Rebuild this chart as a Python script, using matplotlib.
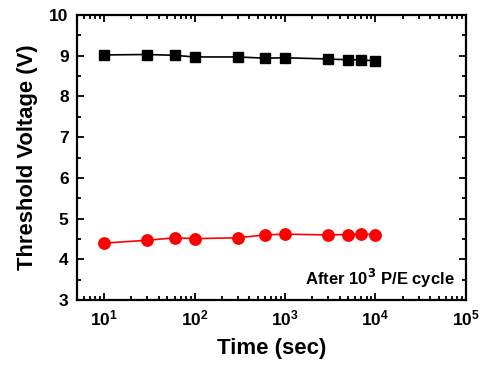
import matplotlib
matplotlib.use("Agg")
import matplotlib.pyplot as plt
from matplotlib.ticker import LogLocator, MultipleLocator

plt.rcParams['font.family'] = ['Liberation Sans', 'DejaVu Sans']
plt.rcParams['font.weight'] = 'bold'

# data
time_sec = [10, 30, 60, 100, 300, 600, 1000, 3000, 5000, 7000, 10000]
vth_program = [9.02, 9.03, 9.01, 8.97, 8.97, 8.94, 8.95, 8.92, 8.90, 8.90, 8.87]
vth_erase = [4.40, 4.47, 4.53, 4.51, 4.53, 4.60, 4.62, 4.60, 4.61, 4.62, 4.61]

fig = plt.figure(figsize=(4.92, 3.66), dpi=100)
ax = fig.add_axes([0.1565, 0.180, 0.7905, 0.779])

ax.plot(time_sec, vth_program, marker='s', color='black', markersize=7.2, linewidth=1.2)
ax.plot(time_sec, vth_erase, marker='o', color='red', markersize=8.2, linewidth=1.2)

ax.set_xscale('log')
ax.set_xlim(5, 1e5)
ax.set_ylim(3, 10)
ax.xaxis.set_major_locator(LogLocator(base=10, numticks=10))
ax.xaxis.set_minor_locator(LogLocator(base=10, subs=range(2, 10), numticks=20))
ax.yaxis.set_major_locator(MultipleLocator(1))
ax.yaxis.set_minor_locator(MultipleLocator(0.5))

ax.tick_params(which='both', direction='in', top=True, right=True, width=1.3)
ax.tick_params(which='major', length=5, labelsize=12.5, pad=6)
ax.tick_params(which='minor', length=3)
for s in ax.spines.values():
    s.set_linewidth(1.6)

ax.set_xlabel('Time (sec)', fontsize=16, fontweight='bold', labelpad=7)
ax.set_ylabel('Threshold Voltage (V)', fontsize=15.8, fontweight='bold', labelpad=8)

ax.text(0.97, 0.075, r'After 10$^\mathbf{3}$ P/E cycle', transform=ax.transAxes,
        ha='right', va='center', fontsize=12, fontweight='bold')

fig.savefig('out.png', dpi=100)
